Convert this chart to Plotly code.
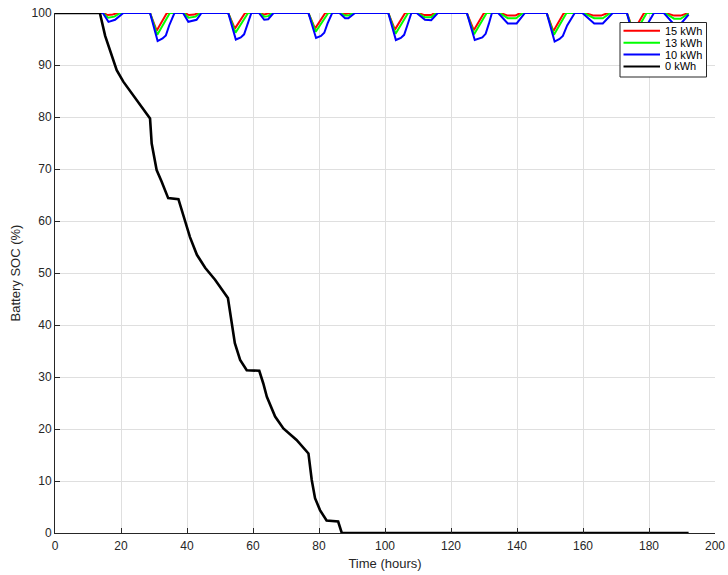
import plotly.graph_objects as go

# ---------------- data ----------------
series_names = ["15 kWh", "13 kWh", "10 kWh", "0 kWh"]

t_15 = [0, 14.6, 16.0, 17.5, 19.0,
        28.8, 30.8, 33.9, 39.3, 40.6, 42.3, 43.3,
        52.5, 54.5, 57.6, 62.2, 63.4, 65.0,
        76.8, 78.8, 81.9, 86.7, 88.0, 89.5,
        101.0, 103.0, 106.1, 110.0, 112.0, 114.0, 115.0,
        124.8, 126.9, 130.0, 135.0, 137.2, 139.5, 141.0,
        149.0, 151.0, 154.2, 160.5, 163.3, 165.5, 167.5,
        173.3, 175.3, 178.5, 185.0, 187.6, 189.6, 192.0]
soc_15 = [100, 100, 99.6, 99.7, 100,
          100, 96.6, 100, 100, 99.6, 99.7, 100,
          100, 97.0, 100, 100, 99.7, 100,
          100, 97.0, 100, 100, 99.8, 100,
          100, 96.8, 100, 100, 99.6, 99.6, 100,
          100, 96.7, 100, 100, 99.5, 99.5, 100,
          100, 96.5, 100, 100, 99.5, 99.5, 100,
          100, 96.5, 100, 100, 99.5, 99.5, 100]

t_13 = [0, 14.5, 16.1, 18.0, 19.8,
        28.8, 31.0, 34.8, 39.0, 40.5, 42.6, 44.0,
        52.5, 54.7, 58.5, 62.0, 63.4, 64.6, 65.8,
        76.8, 79.0, 82.8, 86.5, 87.9, 89.0, 90.3,
        101.0, 103.2, 107.0, 109.8, 112.0, 114.0, 115.5,
        124.8, 127.0, 130.8, 134.7, 137.2, 139.7, 141.8,
        149.0, 151.2, 155.0, 160.2, 163.4, 166.0, 168.3,
        173.3, 175.5, 179.3, 184.8, 187.6, 189.6, 192.0]
soc_13 = [100, 100, 99.1, 99.3, 100,
          100, 95.8, 100, 100, 99.1, 99.3, 100,
          100, 96.2, 100, 100, 99.3, 99.4, 100,
          100, 96.4, 100, 100, 99.5, 99.5, 100,
          100, 96.0, 100, 100, 99.2, 99.2, 100,
          100, 95.9, 100, 100, 99.0, 99.0, 100,
          100, 95.8, 100, 100, 99.0, 99.0, 100,
          100, 95.8, 100, 100, 98.9, 98.9, 99.9]

t_10 = [0, 14.5, 16.2, 18.2, 20.7,
        28.8, 31.1, 32.6, 33.6, 34.6, 36.2, 38.8, 40.4, 42.9, 44.4,
        52.5, 54.8, 56.3, 57.3, 58.3, 59.5, 61.8, 63.4, 64.6, 66.2,
        76.8, 79.1, 80.6, 81.6, 82.6, 84.0, 86.2, 87.9, 88.9, 90.9,
        101.0, 103.3, 104.8, 105.8, 106.8, 108.0, 109.6, 112.1, 114.0, 116.0,
        124.8, 127.2, 129.5, 130.5, 131.5, 132.4, 134.3, 137.2, 139.9, 142.4,
        149.0, 151.4, 152.9, 153.9, 155.2, 157.5, 159.8, 163.4, 166.0, 169.0,
        173.3, 175.6, 177.1, 178.1, 179.3, 181.5, 184.5, 187.6, 189.6, 192.0]
soc_10 = [100, 100, 98.3, 98.7, 100,
          100, 94.6, 95.1, 95.7, 97.6, 100, 100, 98.3, 98.7, 100,
          100, 94.9, 95.3, 95.9, 97.8, 100, 100, 98.7, 98.8, 100,
          100, 95.2, 95.6, 96.2, 98.0, 100, 100, 99.0, 99.0, 100,
          100, 94.8, 95.2, 95.8, 97.7, 100, 100, 98.7, 98.6, 100,
          100, 94.8, 95.3, 96.0, 98.0, 100, 100, 98.0, 98.0, 100,
          100, 94.5, 95.0, 95.6, 97.6, 100, 100, 98.0, 98.0, 100,
          100, 94.6, 95.1, 95.7, 97.6, 100, 100, 97.8, 97.9, 99.7]

t_0 = [0, 13.6, 15.2, 16.7, 18.7, 20.7, 23.7, 28.8, 29.3, 30.8, 32.3, 34.3,
       37.4, 39.4, 40.9, 43.0, 45.5, 48.5, 52.4, 54.5, 56.1, 58.1, 61.9,
       63.1, 64.2, 66.7, 69.2, 73.2, 76.8, 77.8, 78.8, 80.3, 82.3, 85.8,
       86.9, 192.0]
soc_0 = [100, 100, 95.6, 92.9, 89.0, 86.8, 84.2, 79.7, 74.9, 69.8, 67.6, 64.4,
         64.2, 60.2, 56.9, 53.5, 51.0, 48.7, 45.2, 36.5, 33.3, 31.3, 31.2,
         28.8, 26.2, 22.4, 20.1, 17.9, 15.3, 10.2, 6.7, 4.4, 2.4, 2.2,
         0.0, 0.0]

x_ticks = [0, 20, 40, 60, 80, 100, 120, 140, 160, 180, 200]
y_ticks = [0, 10, 20, 30, 40, 50, 60, 70, 80, 90, 100]

colors = ["#ff0000", "#00ff00", "#0000ff", "#000000"]
widths = [2, 2, 2, 2.6]

# ---------------- figure ----------------
fig = go.Figure()
for name, tx, sy, c, w in zip(series_names, [t_15, t_13, t_10, t_0],
                              [soc_15, soc_13, soc_10, soc_0], colors, widths):
    fig.add_trace(go.Scatter(x=tx, y=sy, mode="lines", name=name,
                             line=dict(color=c, width=w), showlegend=False))

FONT = "Liberation Sans, Arial, Helvetica, sans-serif"
ML, MR, MT, MB = 55, 13, 13, 42
W, H = 728, 575
PW, PH = W - ML - MR, H - MT - MB


def px(xp):
    return (xp - ML) / PW


def py(yp):
    return (H - MB - yp) / PH


axis_common = dict(showline=True, linecolor="#262626", linewidth=1,
                   ticks="inside", ticklen=5, tickcolor="#262626",
                   showgrid=True, gridcolor="#dfdfdf", gridwidth=1,
                   zeroline=False, mirror=False, automargin=False,
                   tickfont=dict(family=FONT, size=12, color="#262626"))

fig.update_xaxes(range=[0, 200], tickvals=x_ticks, ticklabelstandoff=2,
                 title=dict(text="Time (hours)", font=dict(family=FONT, size=13, color="#262626"),
                            standoff=6),
                 **axis_common)
fig.update_yaxes(range=[0, 100], tickvals=y_ticks,
                 title=dict(text="Battery SOC (%)", font=dict(family=FONT, size=13, color="#262626"),
                            standoff=8),
                 **axis_common)

# manual legend (MATLAB style box)
shapes = [dict(type="rect", xref="paper", yref="paper",
               x0=px(620), x1=px(706.5), y0=py(77), y1=py(22.5),
               line=dict(color="#262626", width=1), fillcolor="white", layer="above")]
annotations = []
rows = [30.7, 42.7, 54.5, 66.5]
for name, c, r in zip(series_names, colors, rows):
    shapes.append(dict(type="line", xref="paper", yref="paper",
                       x0=px(623.5), x1=px(660), y0=py(r), y1=py(r),
                       line=dict(color=c, width=2), layer="above"))
    annotations.append(dict(xref="paper", yref="paper", x=px(663), y=py(r),
                            text=name, showarrow=False, xanchor="left", yanchor="middle",
                            font=dict(family=FONT, size=11, color="#000000")))

fig.update_layout(width=W, height=H,
                  margin=dict(l=ML, r=MR, t=MT, b=MB, pad=0, autoexpand=False),
                  paper_bgcolor="white", plot_bgcolor="white",
                  showlegend=False, shapes=shapes, annotations=annotations)

fig.write_html("out.html")
